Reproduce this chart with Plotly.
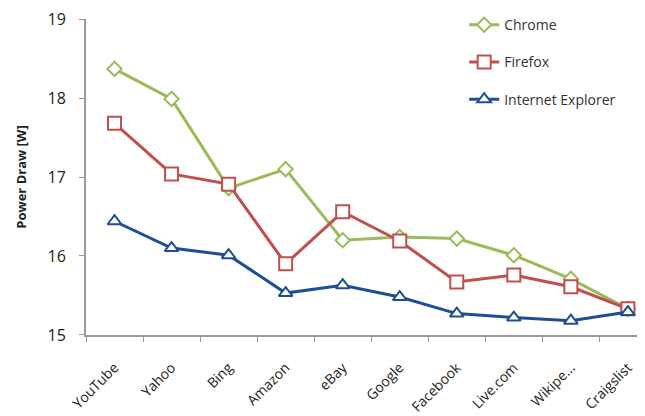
import plotly.graph_objects as go

categories = ["YouTube", "Yahoo", "Bing", "Amazon", "eBay", "Google", "Facebook", "Live.com", "Wikipe...", "Craigslist"]
chrome = [18.37, 17.99, 16.86, 17.10, 16.20, 16.24, 16.22, 16.01, 15.71, 15.33]
firefox = [17.68, 17.04, 16.91, 15.90, 16.56, 16.19, 15.67, 15.76, 15.61, 15.33]
ie = [16.44, 16.10, 16.01, 15.53, 15.63, 15.48, 15.27, 15.22, 15.18, 15.29]
y_ticks = [15, 16, 17, 18, 19]

font = "Open Sans, Liberation Sans, sans-serif"
fig = go.Figure()
series = [
    ("Chrome", chrome, "#9BBB59", "diamond", 11),
    ("Firefox", firefox, "#C0504D", "square", 13),
    ("Internet Explorer", ie, "#1F4E96", "triangle-up", 12),
]
for name, vals, color, sym, size in series:
    fig.add_trace(go.Scatter(
        x=categories, y=vals, name=name, mode="lines+markers",
        legendgroup=name,
        line=dict(color=color, width=3),
        marker=dict(symbol=sym, size=size, color="white",
                    line=dict(color=color, width=2)),
    ))

fig.update_layout(
    width=645, height=416,
    margin=dict(l=78, r=0, t=11, b=89),
    paper_bgcolor="white", plot_bgcolor="white",
    font=dict(family=font, size=13, color="#333333"),
    showlegend=True,
    legend=dict(x=0.667, y=1.031, xanchor="left", yanchor="top",
                font=dict(size=14, color="#333333"),
                tracegroupgap=16, bgcolor="rgba(0,0,0,0)"),
)
fig.update_xaxes(
    range=[-0.5, 9.44], showline=True, linecolor="#999999", linewidth=2,
    ticks="outside", tickson="boundaries", ticklen=5, tickcolor="#999999",
    tickangle=-45, showgrid=False, tickfont=dict(size=14, color="#222222"),
    automargin=False, ticklabelstandoff=17, ticklabeloverflow="allow",
)
fig.update_yaxes(
    range=[14.999, 19.002], tickvals=y_ticks, showline=True, linecolor="#999999", linewidth=2,
    ticks="outside", ticklen=5, tickcolor="#999999", showgrid=False, zeroline=False,
    tickfont=dict(size=16, color="#222222"), automargin=False, ticklabelstandoff=10,
    ticklabeloverflow="allow",
    title=dict(text="<b>Power Draw [W]</b>", font=dict(size=13, color="#222222"), standoff=18),
)
fig.write_html("out.html")
